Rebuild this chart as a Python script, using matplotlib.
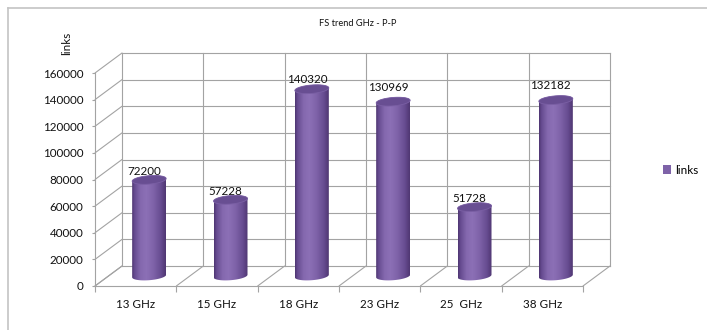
import numpy as np
import matplotlib
matplotlib.use("Agg")
import matplotlib.pyplot as plt
from matplotlib import transforms as mtransforms
from matplotlib.patches import PathPatch, Patch, ConnectionPatch
from matplotlib.path import Path
from matplotlib.colors import LinearSegmentedColormap
from matplotlib.lines import Line2D

# ---- data -------------------------------------------------------------
categories = ["13 GHz", "15 GHz", "18 GHz", "23 GHz", "25  GHz", "38 GHz"]
links = [72200, 57228, 140320, 130969, 51728, 132182]
y_ticks = [0, 20000, 40000, 60000, 80000, 100000, 120000, 140000, 160000]
series_name = "links"
title = "FS trend GHz - P-P"

# ---- figure -----------------------------------------------------------
W, H, DPI = 707, 330, 100
plt.rcParams['font.family'] = ['Lato', 'DejaVu Sans']
fig = plt.figure(figsize=(W / DPI, H / DPI), dpi=DPI)
txt_c = '#111111'
fs = 8.4


def fx(px):
    return px / W


def fy(py):
    return 1 - py / H


# front plane of the 3-D box
ax = fig.add_axes([fx(95), fy(286), fx(583) - fx(95), fy(73) - fy(286)])
ax.set_autoscale_on(False)
n = len(categories)
x0, x1 = -0.5, n - 0.5
ax.set_xlim(x0, x1)
ax.set_ylim(y_ticks[0], y_ticks[-1])
ax.patch.set_visible(False)

grid = '#a3a3a3'
lw = 0.8
for s in ['top', 'right']:
    ax.spines[s].set_visible(False)
for s in ['left', 'bottom']:
    ax.spines[s].set_color(grid)
    ax.spines[s].set_linewidth(lw)

# depth of the box (back wall) and the plane the cylinders stand on
DX, DY = 27, 20
back = mtransforms.offset_copy(ax.transData, fig=fig, x=DX, y=DY, units='dots')
mid = mtransforms.offset_copy(ax.transData, fig=fig, x=DX / 2, y=DY / 2, units='dots')


def depth_line(x, y):
    cp = ConnectionPatch((x, y), (x, y), coordsA=ax.transData, coordsB=back,
                         color=grid, lw=lw, clip_on=False, zorder=1)
    ax.add_artist(cp)


# back wall horizontal gridlines + side wall lines
for v in y_ticks:
    ax.plot([x0, x1], [v, v], color=grid, lw=lw, transform=back,
            clip_on=False, zorder=1)
    depth_line(x0, v)

# back wall verticals + floor depth lines
bounds = np.arange(x0, x1 + 0.01, 1.0)
for b in bounds:
    ax.plot([b, b], [y_ticks[0], y_ticks[-1]], color=grid, lw=lw,
            transform=back, clip_on=False, zorder=1)
    depth_line(b, 0)

# ---- axes ticks --------------------------------------------------------
ax.set_yticks(y_ticks)
ax.set_yticklabels([str(v) for v in y_ticks])
ax.tick_params(axis='y', direction='out', length=2.2, width=lw, color=grid,
               pad=6, labelsize=fs, labelcolor=txt_c)
ax.set_xticks(bounds)
ax.set_xticklabels([])
ax.tick_params(axis='x', which='major', direction='out', length=4.3,
               width=lw, color=grid)
ax.set_xticks(np.arange(n), minor=True)
ax.set_xticklabels(categories, minor=True)
ax.tick_params(axis='x', which='minor', length=0, pad=9.2, labelsize=fs,
               labelcolor=txt_c)

# ---- cylinders ---------------------------------------------------------
ax_h_px = ax.get_position().height * H
ax_w_px = ax.get_position().width * W
data_per_px_y = (y_ticks[-1] - y_ticks[0]) / ax_h_px
data_per_px_x = (x1 - x0) / ax_w_px

cyl_a = 17 * data_per_px_x          # half width
cyl_b = 4.2 * data_per_px_y         # half height of the elliptical caps
cyl_s = 1.3 * data_per_px_y         # slight tilt of the caps

body_cmap = LinearSegmentedColormap.from_list(
    'cyl', [(0.0, '#4d3470'), (0.07, '#654a8f'), (0.25, '#8468ae'),
            (0.42, '#8c70b6'), (0.62, '#8064aa'), (0.85, '#674c91'),
            (1.0, '#4f3672')])
grad = body_cmap(np.linspace(0, 1, 256))[None, :, :]

theta_bot = np.linspace(np.pi, 2 * np.pi, 60)
theta_top = np.linspace(0, np.pi, 60)
theta_all = np.linspace(0, 2 * np.pi, 120)


def cap(c, v, th):
    return np.column_stack([c + cyl_a * np.cos(th),
                            v + cyl_b * np.sin(th) + cyl_s * np.cos(th)])


for i, v in enumerate(links):
    outline = np.vstack([cap(i, 0, theta_bot), cap(i, v, theta_top)])
    body = PathPatch(Path(outline, closed=False), transform=mid,
                     facecolor='none', edgecolor='none')
    ax.add_patch(body)
    body.set_clip_on(False)
    img = ax.imshow(grad, extent=[i - cyl_a, i + cyl_a, -2 * cyl_b, v + 2 * cyl_b],
                    transform=mid, aspect='auto', interpolation='bilinear',
                    zorder=3)
    img.set_clip_path(body)
    top = PathPatch(Path(cap(i, v, theta_all)), transform=mid,
                    facecolor='#684e92', edgecolor='#7a5fa4', lw=0.6,
                    zorder=4, clip_on=False)
    ax.add_patch(top)

ax.set_xlim(x0, x1)
ax.set_ylim(y_ticks[0], y_ticks[-1])

# value labels above the caps
label_lift = [0, 0, 1, 5, 0, 6]
for i, v in enumerate(links):
    ax.annotate(str(v), xy=(i, v), xycoords=mid,
                xytext=(-5, 4.2 + 1 + label_lift[i]), textcoords='offset pixels',
                ha='center', va='baseline', fontsize=fs, color=txt_c,
                annotation_clip=False, zorder=5)

# ---- titles, legend, frame --------------------------------------------
fig.text(fx(358), fy(24), title, ha='center', va='center', fontsize=6.7,
         color=txt_c)
fig.text(fx(67), fy(43), series_name, ha='center', va='center', rotation=90,
         fontsize=fs, color=txt_c)

fig.legend(handles=[Patch(facecolor='#7e62a8', edgecolor='none')],
           labels=[series_name], loc='center left',
           bbox_to_anchor=(fx(663), fy(170)), frameon=False, fontsize=fs,
           handlelength=0.7, handleheight=0.7, handletextpad=0.3,
           borderpad=0, borderaxespad=0)

frame_c = '#c4c4c4'
fig.add_artist(Line2D([fx(8), 1.0], [fy(8), fy(8)], color=frame_c, lw=1.2,
                      transform=fig.transFigure))
fig.add_artist(Line2D([fx(8), fx(8)], [fy(8), 0.0], color=frame_c, lw=1.2,
                      transform=fig.transFigure))

fig.savefig('out.png', dpi=DPI)
